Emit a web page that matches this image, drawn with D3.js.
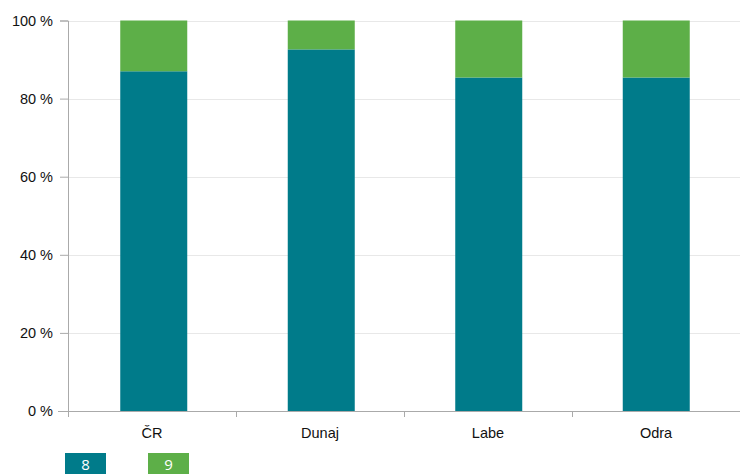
<!DOCTYPE html>
<html>
<head>
<meta charset="utf-8">
<script src="https://cdn.jsdelivr.net/npm/d3@7"></script>
<style>
  html, body { margin: 0; padding: 0; background: #fff; }
  svg { display: block; }
  .axis text { font-family: "Liberation Sans", Arial, sans-serif; font-size: 14.5px; fill: #111; }
</style>
</head>
<body>
<svg id="chart" width="740" height="474"></svg>
<script>
// Share of each class per river basin (percent)
const categories = ["ČR", "Dunaj", "Labe", "Odra"];
const seriesNames = ["8", "9"];
const values8 = [87.0, 92.6, 85.4, 85.4];
const values9 = [13.0, 7.4, 14.6, 14.6];
const yTicks = [0, 20, 40, 60, 80, 100];
const colors = ["#007b8a", "#5daf48"];

const svg = d3.select("#chart");
const margin = { left: 68, right: 0 };
const width = 740;

const x = d3.scaleBand().domain(categories).range([70, width]).paddingInner(0.6).paddingOuter(0.3);
const xBand = d3.scaleBand().domain(categories).range([margin.left, width - margin.right]);
const y = d3.scaleLinear().domain([0, 100]).range([411, 20.5]);

// gridlines
svg.append("g").selectAll("line").data(yTicks.filter(d => d > 0)).join("line")
  .attr("x1", margin.left).attr("x2", width)
  .attr("y1", d => Math.round(y(d)) + 0.5).attr("y2", d => Math.round(y(d)) + 0.5)
  .attr("stroke", "#e8e8e8").attr("stroke-width", 1);

// stacked bars
const rows = categories.map((c, i) => ({ cat: c, "8": values8[i], "9": values9[i] }));
const stack = d3.stack().keys(seriesNames)(rows);
svg.append("g").selectAll("g").data(stack).join("g")
  .attr("fill", (d, i) => colors[i])
  .selectAll("rect").data(d => d).join("rect")
  .attr("x", d => x(d.data.cat))
  .attr("width", x.bandwidth())
  .attr("y", d => y(d[1]))
  .attr("height", d => y(d[0]) - y(d[1]));

// y axis
const yAxis = svg.append("g").attr("class", "axis")
  .attr("transform", `translate(${margin.left},0)`)
  .call(d3.axisLeft(y).tickValues(yTicks).tickFormat(d => d + " %").tickSize(8).tickPadding(7));
yAxis.select(".domain").attr("stroke", "#aaa");
yAxis.selectAll(".tick line").attr("stroke", "#aaa");

// x axis with ticks at band boundaries
const xg = svg.append("g").attr("class", "axis").attr("transform", "translate(0,411)");
xg.append("line").attr("x1", margin.left - 10).attr("x2", width).attr("y1", 0.5).attr("y2", 0.5)
  .attr("stroke", "#aaa");
xg.selectAll("line.tk").data(categories).join("line").attr("class", "tk")
  .attr("x1", d => xBand(d) + 0.5).attr("x2", d => xBand(d) + 0.5)
  .attr("y1", 0).attr("y2", 6).attr("stroke", "#aaa");
xg.selectAll("text").data(categories).join("text")
  .attr("x", d => xBand(d) + xBand.bandwidth() / 2)
  .attr("y", 27)
  .attr("text-anchor", "middle")
  .text(d => d);

// legend
const legend = svg.append("g");
const lx = [65, 148];
seriesNames.forEach((s, i) => {
  legend.append("rect").attr("x", lx[i]).attr("y", 453).attr("width", 41).attr("height", 21).attr("fill", colors[i]);
  legend.append("text").attr("x", lx[i] + 20.5).attr("y", 470).attr("text-anchor", "middle")
    .attr("fill", "#fff").style("font-family", "'Open Sans', sans-serif").style("font-size", "15px").text(s);
});
</script>
</body>
</html>
